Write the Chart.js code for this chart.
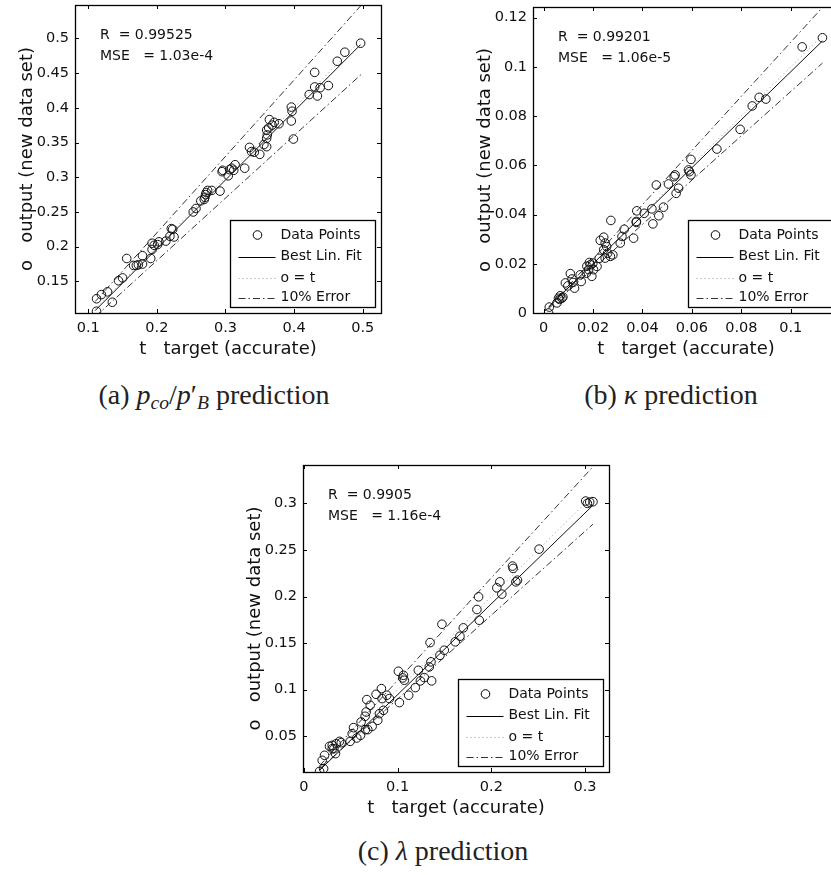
<!DOCTYPE html>
<html>
<head>
<meta charset="utf-8">
<script src="https://cdn.jsdelivr.net/npm/chart.js@4.4.1/dist/chart.umd.min.js"></script>
<style>
body { margin: 0; background: #fff; overflow: hidden; width: 831px; height: 875px; position: relative; }
canvas { position: absolute; }
.cap { position: absolute; font-family: "Liberation Serif", serif; font-size: 28px; line-height: 28px; color: #222; white-space: nowrap; transform: translateX(-50%); }
.cap sub { font-size: 70%; vertical-align: -0.28em; line-height: 0; }
</style>
</head>
<body>
<canvas id="plotA" width="401" height="375" style="left:0px;top:-15px"></canvas>
<canvas id="plotB" width="401" height="373" style="left:458px;top:-13px"></canvas>
<canvas id="plotC" width="401" height="374" style="left:228px;top:445px"></canvas>
<div class="cap" style="left:214px;top:381px">(a) <i>p</i><sub><i>co</i></sub>/<i>p</i>′<sub><i>B</i></sub> prediction</div>
<div class="cap" style="left:671px;top:381px">(b) <i>κ</i> prediction</div>
<div class="cap" style="left:443px;top:837px">(c) <i>λ</i> prediction</div>
<script>
// (a) p_co / p'_B
var aTarget = [0.112,0.112,0.119,0.128,0.135,0.144,0.150,0.156,0.166,0.170,0.173,0.179,0.179,0.191,0.193,0.193,0.196,0.203,0.201,0.213,0.219,0.221,0.223,0.225,0.253,0.257,0.264,0.269,0.271,0.272,0.274,0.280,0.292,0.270,0.295,0.296,0.304,0.306,0.309,0.312,0.314,0.328,0.335,0.338,0.342,0.350,0.356,0.360,0.360,0.360,0.363,0.364,0.368,0.371,0.378,0.361,0.396,0.397,0.396,0.399,0.422,0.430,0.430,0.434,0.438,0.450,0.463,0.474,0.497];
var aOutput = [0.107,0.125,0.131,0.135,0.120,0.151,0.155,0.183,0.173,0.173,0.174,0.187,0.175,0.183,0.196,0.205,0.202,0.207,0.203,0.208,0.215,0.226,0.225,0.214,0.250,0.255,0.266,0.268,0.275,0.278,0.281,0.281,0.280,0.271,0.308,0.310,0.302,0.311,0.313,0.310,0.318,0.313,0.343,0.337,0.336,0.333,0.347,0.344,0.356,0.368,0.371,0.383,0.375,0.379,0.377,0.361,0.401,0.395,0.381,0.355,0.419,0.430,0.451,0.417,0.429,0.432,0.467,0.480,0.493];
var aFitT = [0.11, 0.497], aFitO = [0.108, 0.491];
var aLineT = [0.11, 0.50], aUpperO = [0.121, 0.55], aLowerO = [0.099, 0.45];
var aXTicks = [0.1, 0.2, 0.3, 0.4, 0.5], aXLabels = ['0.1', '0.2', '0.3', '0.4', '0.5'];
var aYTicks = [0.15, 0.2, 0.25, 0.3, 0.35, 0.4, 0.45, 0.5], aYLabels = ['0.15', '0.2', '0.25', '0.3', '0.35', '0.4', '0.45', '0.5'];
var aStats = ['R  = 0.99525', 'MSE   = 1.03e-4'];

// (b) kappa
var bTarget = [0.002,0.0023,0.0054,0.006,0.0067,0.0074,0.0078,0.0065,0.0088,0.0108,0.0115,0.0125,0.0119,0.0148,0.0152,0.0173,0.0182,0.0189,0.0195,0.0199,0.0202,0.0216,0.0229,0.0243,0.0249,0.0243,0.0249,0.0259,0.027,0.028,0.0272,0.031,0.0317,0.0326,0.0364,0.0375,0.0377,0.0407,0.0438,0.0442,0.0456,0.0466,0.0485,0.0505,0.0528,0.0532,0.0536,0.0546,0.0586,0.059,0.0596,0.0596,0.0701,0.0795,0.0844,0.0872,0.0899,0.1046,0.1128,0.0175,0.0185,0.0225,0.0098,0.0255,0.0375];
var bOutput = [0.000,0.0024,0.0041,0.006,0.007,0.006,0.0065,0.0055,0.0122,0.016,0.0138,0.0101,0.0124,0.0155,0.0128,0.0162,0.0176,0.0196,0.0149,0.0203,0.0176,0.0189,0.0295,0.0308,0.0284,0.0257,0.0223,0.0243,0.023,0.0236,0.0376,0.0284,0.0311,0.034,0.0304,0.0368,0.0415,0.0405,0.0423,0.0362,0.052,0.0395,0.043,0.0524,0.0554,0.0561,0.0486,0.0507,0.0581,0.0574,0.0624,0.0561,0.0666,0.0746,0.0841,0.0876,0.0869,0.1081,0.1118,0.019,0.0205,0.0222,0.011,0.027,0.0372];
var bFitT = [0.002, 0.1128], bFitO = [0.0025, 0.1105];
var bLineT = [0.002, 0.1128], bUpperO = [0.0022, 0.1241], bLowerO = [0.0018, 0.1015];
var bXTicks = [0, 0.02, 0.04, 0.06, 0.08, 0.1], bXLabels = ['0', '0.02', '0.04', '0.06', '0.08', '0.1'];
var bYTicks = [0, 0.02, 0.04, 0.06, 0.08, 0.1, 0.12], bYLabels = ['0', '0.02', '0.04', '0.06', '0.08', '0.1', '0.12'];
var bStats = ['R  = 0.99201', 'MSE   = 1.06e-5'];

// (c) lambda
var cTarget = [0.0167,0.021,0.022,0.0195,0.0273,0.0302,0.032,0.0337,0.0344,0.038,0.0398,0.0302,0.0493,0.0515,0.0529,0.0564,0.0604,0.061,0.0653,0.0664,0.0671,0.0657,0.0682,0.0707,0.0728,0.0788,0.077,0.0806,0.0827,0.0834,0.0849,0.0884,0.0912,0.1008,0.1019,0.1062,0.1072,0.1054,0.1118,0.1189,0.1221,0.1243,0.1285,0.1346,0.1356,0.1363,0.1338,0.1452,0.1473,0.1498,0.1615,0.1665,0.1701,0.1846,0.1864,0.1871,0.2059,0.2091,0.2112,0.2226,0.2233,0.2262,0.2279,0.251,0.3007,0.3025,0.305,0.3085];
var cOutput = [0.0124,0.0153,0.0296,0.0242,0.0393,0.0403,0.0367,0.0314,0.0421,0.0446,0.0432,0.0367,0.0446,0.0529,0.0593,0.0482,0.0511,0.0654,0.0715,0.0761,0.0894,0.0572,0.0572,0.0833,0.0607,0.0672,0.0951,0.0743,0.1012,0.0905,0.0779,0.0941,0.0905,0.1198,0.0862,0.1155,0.1102,0.1127,0.0941,0.1023,0.1209,0.1095,0.113,0.1506,0.1299,0.1095,0.1245,0.137,0.1703,0.1424,0.1514,0.1574,0.1664,0.1861,0.1997,0.1746,0.2094,0.2158,0.2026,0.2327,0.2302,0.2158,0.2176,0.2509,0.3025,0.3,0.3014,0.3018];
var cFitT = [0.0167, 0.3085], cFitO = [0.0135, 0.298];
var cLineT = [0.0167, 0.3085], cUpperO = [0.0184, 0.3394], cLowerO = [0.015, 0.2777];
var cXTicks = [0, 0.1, 0.2, 0.3], cXLabels = ['0', '0.1', '0.2', '0.3'];
var cYTicks = [0.05, 0.1, 0.15, 0.2, 0.25, 0.3], cYLabels = ['0.05', '0.1', '0.15', '0.2', '0.25', '0.3'];
var cStats = ['R  = 0.9905', 'MSE   = 1.16e-4'];

var FONT = 'DejaVu Sans';
var INK = '#000';
var DOT = [1, 3];
var DASHDOT = [7, 3, 1.5, 3];

function pairs(xs, ys) {
	return xs.map(function (v, i) { return {x: v, y: ys[i]}; });
}

// box, inward ticks on all four sides, stats text and legend (MATLAB postreg look)
var framePlugin = {
	id: 'frame',
	afterDraw: function (chart, args, opts) {
		var ctx = chart.ctx, a = chart.chartArea;
		var sx = chart.scales.x, sy = chart.scales.y;
		ctx.save();
		ctx.strokeStyle = INK;
		ctx.lineWidth = 1;
		ctx.setLineDash([]);
		ctx.beginPath();
		sx.ticks.forEach(function (t) {
			var px = Math.round(sx.getPixelForValue(t.value)) + 0.5;
			ctx.moveTo(px, a.bottom); ctx.lineTo(px, a.bottom - 4);
			ctx.moveTo(px, a.top); ctx.lineTo(px, a.top + 4);
		});
		sy.ticks.forEach(function (t) {
			var py = Math.round(sy.getPixelForValue(t.value)) + 0.5;
			ctx.moveTo(a.left, py); ctx.lineTo(a.left + 4, py);
			ctx.moveTo(a.right, py); ctx.lineTo(a.right - 4, py);
		});
		ctx.stroke();
		ctx.lineWidth = 1.3;
		ctx.strokeRect(Math.round(a.left) + 0.5, Math.round(a.top) + 0.5, Math.round(a.right - a.left), Math.round(a.bottom - a.top));
		ctx.lineWidth = 1;

		// R and MSE
		ctx.fillStyle = '#111';
		ctx.font = '14px "' + FONT + '"';
		ctx.textBaseline = 'alphabetic';
		ctx.textAlign = 'left';
		ctx.fillText(opts.stats[0], a.left + 25, a.top + 33.5);
		ctx.fillText(opts.stats[1], a.left + 25, a.top + 54.5);

		// legend box
		var lw = 145, lh = 87;
		var lx = Math.round(a.right - 6 - lw) + 0.5, ly = Math.round(a.bottom - 6 - lh) + 0.5;
		ctx.fillStyle = '#fff';
		ctx.fillRect(lx, ly, lw, lh);
		ctx.strokeStyle = INK;
		ctx.lineWidth = 1.3;
		ctx.strokeRect(lx, ly, lw, lh);
		ctx.lineWidth = 1;
		var rows = [14.5, 36, 57.5, 77];
		var names = ['Data Points', 'Best Lin. Fit', 'o = t', '10% Error'];
		ctx.fillStyle = '#111';
		ctx.textBaseline = 'middle';
		names.forEach(function (n, i) {
			ctx.fillText(n, lx + 50, ly + rows[i]);
		});
		ctx.beginPath();
		ctx.arc(lx + 27, ly + rows[0], 4.3, 0, Math.PI * 2);
		ctx.stroke();
		var styles = [null, [[], INK], [DOT, '#999'], [DASHDOT, '#333']];
		for (var i = 1; i < 4; i++) {
			var yy = Math.round(ly + rows[i]) + 0.5;
			ctx.setLineDash(styles[i][0]);
			ctx.strokeStyle = styles[i][1];
			ctx.beginPath();
			ctx.moveTo(lx + 8, yy);
			ctx.lineTo(lx + 45, yy);
			ctx.stroke();
		}
		ctx.restore();
	}
};

function makePlot(id, p) {
	var lineSet = function (data, color, dash) {
		return {data: data, showLine: true, pointRadius: 0, borderColor: color, borderWidth: 1, borderDash: dash, clip: 0};
	};
	return new Chart(document.getElementById(id), {
		type: 'scatter',
		plugins: [framePlugin],
		data: {
			datasets: [
				{label: 'Data Points', data: pairs(p.t, p.o), pointRadius: 4.3, pointHoverRadius: 4.3, borderColor: '#111', backgroundColor: 'rgba(0,0,0,0)', borderWidth: 1, clip: 0},
				lineSet(pairs(p.fitT, p.fitO), '#111', []),
				lineSet(pairs(p.lineT, p.lineT), '#999', DOT),
				lineSet(pairs(p.lineT, p.upper), '#333', DASHDOT),
				lineSet(pairs(p.lineT, p.lower), '#333', DASHDOT)
			]
		},
		options: {
			responsive: false,
			animation: false,
			events: [],
			// top padding clears the scale's own label padding so the plot box lands where we want
			layout: {padding: {top: 20, right: 20, left: 0, bottom: 0}},
			plugins: {legend: {display: false}, tooltip: {enabled: false}, frame: {stats: p.stats}},
			scales: {
				x: {
					type: 'linear', min: p.xRange[0], max: p.xRange[1],
					afterFit: function (s) { s.height = 47; },
					afterBuildTicks: function (s) { s.ticks = p.xTicks.map(function (v) { return {value: v}; }); },
					ticks: {callback: function (v, i) { return p.xLabels[i]; }, font: {family: FONT, size: 14.5}, color: '#111', padding: 7, maxRotation: 0, autoSkip: false},
					grid: {display: false, drawTicks: false},
					border: {display: false},
					title: {display: true, text: 't   target (accurate)', font: {family: FONT, size: 18}, color: '#111', padding: {top: 0, bottom: 0}}
				},
				y: {
					type: 'linear', min: p.yRange[0], max: p.yRange[1],
					afterFit: function (s) { s.width = 75; },
					afterBuildTicks: function (s) { s.ticks = p.yTicks.map(function (v) { return {value: v}; }); },
					ticks: {callback: function (v, i) { return p.yLabels[i]; }, font: {family: FONT, size: 14.5}, color: '#111', padding: 6, autoSkip: false},
					grid: {display: false, drawTicks: false},
					border: {display: false},
					title: {display: true, text: 'o   output (new data set)', font: {family: FONT, size: 18}, color: '#111', padding: {top: 17, bottom: 0}}
				}
			}
		}
	});
}

makePlot('plotA', {t: aTarget, o: aOutput, fitT: aFitT, fitO: aFitO, lineT: aLineT, upper: aUpperO, lower: aLowerO,
	xRange: [0.0806, 0.5267], yRange: [0.1045, 0.548], xTicks: aXTicks, xLabels: aXLabels, yTicks: aYTicks, yLabels: aYLabels, stats: aStats});
makePlot('plotB', {t: bTarget, o: bOutput, fitT: bFitT, fitO: bFitO, lineT: bLineT, upper: bUpperO, lower: bLowerO,
	xRange: [-0.0043, 0.1195], yRange: [0, 0.1243], xTicks: bXTicks, xLabels: bXLabels, yTicks: bYTicks, yLabels: bYLabels, stats: bStats});
makePlot('plotC', {t: cTarget, o: cOutput, fitT: cFitT, fitO: cFitO, lineT: cLineT, upper: cUpperO, lower: cLowerO,
	xRange: [-0.001, 0.3256], yRange: [0.0117, 0.3412], xTicks: cXTicks, xLabels: cXLabels, yTicks: cYTicks, yLabels: cYLabels, stats: cStats});
</script>
</body>
</html>
